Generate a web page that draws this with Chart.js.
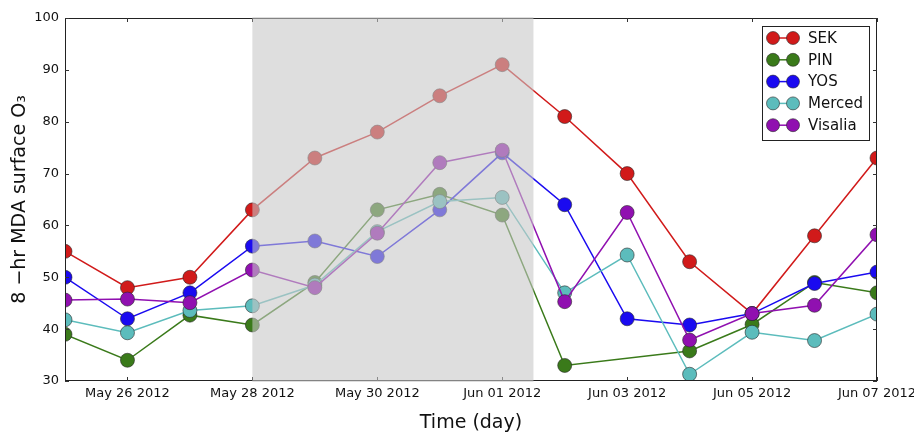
<!DOCTYPE html>
<html lang="en">
  <head>
    <meta charset="UTF-8" />
    <title>8-hr MDA surface O3</title>
    <script src="https://cdn.jsdelivr.net/npm/chart.js"></script>
    <style>
      html, body {
        margin: 0;
        padding: 0;
        background: #fff;
      }
      #wrap {
        width: 914px;
        height: 434px;
      }
    </style>
  </head>
  <body>
    <div id="wrap">
      <canvas id="o3Chart" width="914" height="434"></canvas>
    </div>

    <script>
      // one point per day, May 25 .. Jun 07 2012
      var days = ["May 25", "May 26", "May 27", "May 28", "May 29", "May 30", "May 31",
                  "Jun 01", "Jun 02", "Jun 03", "Jun 04", "Jun 05", "Jun 06", "Jun 07"];
      var xTickLabels = ["", "May 26 2012", "", "May 28 2012", "", "May 30 2012", "",
                         "Jun 01 2012", "", "Jun 03 2012", "", "Jun 05 2012", "", "Jun 07 2012"];
      var yTicks = [30, 40, 50, 60, 70, 80, 90, 100];

      var sek     = [55, 48, 50, 63, 73, 78, 85, 91, 81, 70, 53, 43, 58, 73];
      var pin     = [39, 34, 42.7, 40.8, 49, 63, 66, 62, 33, null, 35.8, 40.9, 49, 47];
      var yos     = [50, 42, 47, 56, 57, 54, 63, 74, 64, 42, 40.8, 43, 48.8, 51];
      var merced  = [41.8, 39.3, 43.6, 44.5, 48.5, 58.8, 64.6, 65.4, 47, 54.3, 31.3, 39.4, 37.8, 42.9];
      var visalia = [45.6, 45.8, 45.1, 51.4, 48, 58.5, 72.1, 74.5, 45.3, 62.5, 37.9, 43, 44.6, 58.2];

      // shaded period (in day index units)
      var shadeStart = 3;
      var shadeEnd = 7.5;

      var seriesNames = ["SEK", "PIN", "YOS", "Merced", "Visalia"];
      var seriesData = [sek, pin, yos, merced, visalia];
      var seriesColors = ["#d11a1a", "#3a7a1a", "#1a0af0", "#5cbcbc", "#9010b0"];

      var FONT = "'DejaVu Sans', sans-serif";

      var datasets = seriesNames.map(function(name, i) {
        return {
          label: name,
          data: seriesData[i],
          borderColor: seriesColors[i],
          backgroundColor: seriesColors[i],
          borderWidth: 1.5,
          pointRadius: 7,
          pointBorderWidth: 0.8,
          pointBorderColor: "rgba(40,40,40,0.75)",
          pointBackgroundColor: seriesColors[i],
          spanGaps: true,
          tension: 0,
          clip: 0,
          order: seriesNames.length - 1 - i // later series on top
        };
      });

      // frame, inward tick marks, the grey overlay and the legend
      var decorations = {
        id: "decorations",
        afterDatasetsDraw: function(chart) {
          var ctx = chart.ctx;
          var a = chart.chartArea;
          var xs = chart.scales.x;
          var ys = chart.scales.y;
          ctx.save();

          ctx.strokeStyle = "#222";
          ctx.lineWidth = 1;
          ctx.strokeRect(a.left + 0.5, a.top + 0.5, a.right - a.left - 1, a.bottom - a.top - 1);

          ctx.strokeStyle = "#333";
          ctx.beginPath();
          xTickLabels.forEach(function(lbl, i) {
            if (!lbl) return;
            var px = Math.round(xs.getPixelForValue(i)) + 0.5;
            ctx.moveTo(px, a.bottom); ctx.lineTo(px, a.bottom - 4);
            ctx.moveTo(px, a.top); ctx.lineTo(px, a.top + 4);
          });
          yTicks.forEach(function(v) {
            var py = Math.round(ys.getPixelForValue(v)) + 0.5;
            ctx.moveTo(a.left, py); ctx.lineTo(a.left + 4, py);
            ctx.moveTo(a.right, py); ctx.lineTo(a.right - 4, py);
          });
          ctx.stroke();

          var x0 = xs.getPixelForValue(shadeStart);
          var x1 = xs.getPixelForValue(shadeEnd);
          ctx.fillStyle = "rgba(199,199,199,0.59)";
          ctx.fillRect(x0, a.top - 1, x1 - x0, a.bottom - a.top + 2);

          // legend box
          var lx = 762, ly = 26, lw = 107, lh = 114;
          ctx.fillStyle = "#fff";
          ctx.fillRect(lx, ly, lw, lh);
          ctx.strokeStyle = "#222";
          ctx.strokeRect(lx + 0.5, ly + 0.5, lw, lh);
          ctx.font = "15px " + FONT;
          ctx.textBaseline = "middle";
          ctx.textAlign = "left";
          seriesNames.forEach(function(name, i) {
            var cy = ly + 12 + i * 21.8;
            ctx.strokeStyle = seriesColors[i];
            ctx.lineWidth = 1.5;
            ctx.beginPath();
            ctx.moveTo(773, cy); ctx.lineTo(793, cy);
            ctx.stroke();
            [773, 793].forEach(function(mx) {
              ctx.beginPath();
              ctx.arc(mx, cy, 6.5, 0, Math.PI * 2);
              ctx.fillStyle = seriesColors[i];
              ctx.fill();
              ctx.lineWidth = 0.8;
              ctx.strokeStyle = "rgba(40,40,40,0.75)";
              ctx.stroke();
            });
            ctx.fillStyle = "#111";
            ctx.fillText(name, 808, cy + 1);
          });
          ctx.restore();
        }
      };

      new Chart(document.getElementById("o3Chart").getContext("2d"), {
        type: "line",
        data: { labels: days, datasets: datasets },
        plugins: [decorations],
        options: {
          responsive: false,
          animation: false,
          layout: { padding: { left: 0, right: 37, top: 18, bottom: 0 } },
          plugins: {
            legend: { display: false },
            tooltip: { enabled: false }
          },
          scales: {
            x: {
              type: "category",
              offset: false,
              grid: { display: false, drawTicks: false },
              border: { display: false },
              ticks: {
                autoSkip: false,
                maxRotation: 0,
                padding: 5,
                color: "#111",
                font: { family: FONT, size: 13 },
                callback: function(v, i) { return xTickLabels[i]; }
              },
              title: {
                display: true,
                text: "Time (day)",
                color: "#111",
                padding: { top: 0, bottom: 0 },
                font: { family: FONT, size: 19 }
              },
              afterFit: function(scale) {
                scale.height = 53;
                scale.paddingLeft = 0;
                scale.paddingRight = 0;
              }
            },
            y: {
              min: 30,
              max: 100,
              grid: { display: false, drawTicks: false },
              border: { display: false },
              ticks: {
                stepSize: 10,
                padding: 6,
                color: "#111",
                font: { family: FONT, size: 13 }
              },
              afterBuildTicks: function(scale) {
                scale.ticks = yTicks.map(function(v) { return { value: v }; });
              },
              title: {
                display: true,
                text: "8 \u2212hr MDA surface O\u2083",
                color: "#111",
                padding: { top: 9, bottom: 0 },
                font: { family: FONT, size: 19 }
              },
              afterFit: function(scale) {
                scale.width = 65;
                scale.paddingTop = 0;
                scale.paddingBottom = 0;
              }
            }
          }
        }
      });
    </script>
  </body>
</html>
